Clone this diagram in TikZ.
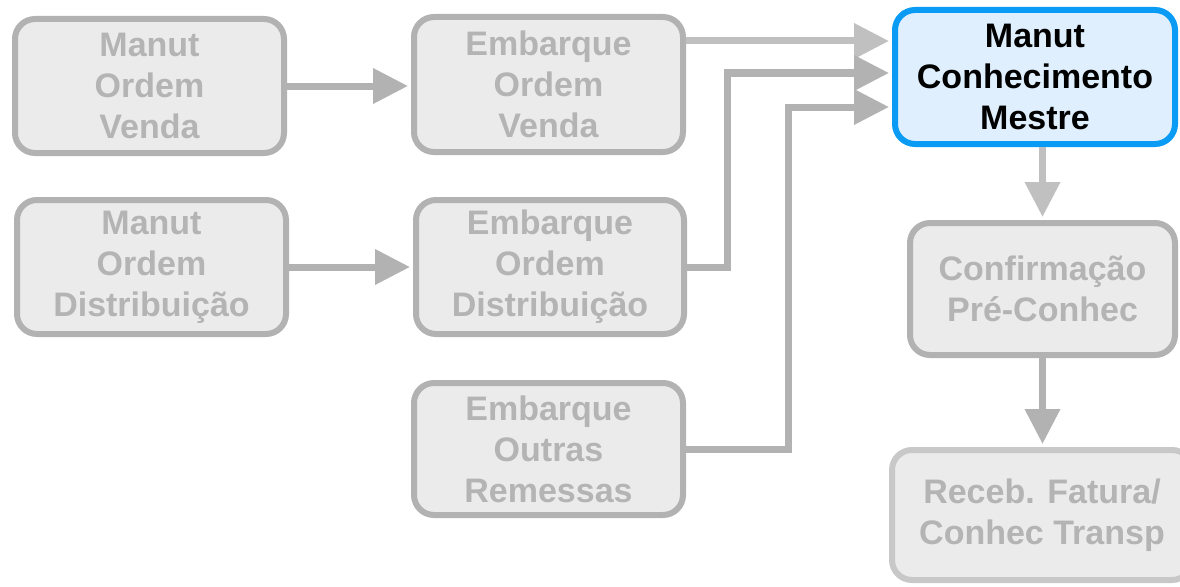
\documentclass[tikz,border=0pt]{standalone}
\usepackage{fontspec}
\setmainfont{Liberation Sans}
\usetikzlibrary{arrows.meta}
\definecolor{boxline}{HTML}{B2B2B2}
\definecolor{boxfill}{HTML}{EBEBEB}
\definecolor{boxtext}{HTML}{B4B4B4}
\definecolor{lightline}{HTML}{C0C0C0}
\definecolor{paleline}{HTML}{C8C8C8}
\definecolor{blueline}{HTML}{0A9BF5}
\definecolor{bluefill}{HTML}{DFEFFD}
\tikzset{
  proc/.style={draw=boxline, fill=boxfill, line width=6pt, rounded corners=20pt,
    text=boxtext, align=center, inner sep=0pt,
    font=\fontsize{34}{41}\selectfont\bfseries},
  current/.style={proc, draw=blueline, fill=bluefill, text=black},
  flow/.style={draw=boxline, line width=7pt,
    -{Triangle[length=35pt,width=34pt]}, shorten >=3pt},
  lightflow/.style={flow, draw=lightline},
}
\begin{document}
\begin{tikzpicture}[x=1pt,y=-1pt]
\useasboundingbox (0,0) rectangle (1180,586);
\clip (0,0) rectangle (1180,586);
\node[proc, minimum width=269pt, minimum height=134pt] (A) at (149.5,86) {Manut\\Ordem\\Venda};
\node[proc, minimum width=269pt, minimum height=134pt] (B) at (151.5,267) {Manut\\Ordem\\Distribuição};
\node[proc, minimum width=269pt, minimum height=135pt] (C) at (548.5,84.5) {Embarque\\Ordem\\Venda};
\node[proc, minimum width=268pt, minimum height=134pt] (D) at (550,267) {Embarque\\Ordem\\Distribuição};
\node[proc, minimum width=269pt, minimum height=132pt] (E) at (548.5,449) {Embarque\\Outras\\Remessas};
\node[current, minimum width=280pt, minimum height=134pt] (F) at (1035,77) {Manut\\Conhecimento\\Mestre};
\node[proc, minimum width=265pt, minimum height=132pt] (G) at (1042.5,289) {Confirmação\\Pré-Conhec};
\node[proc, draw=paleline, minimum width=300pt, minimum height=130pt] (H) at (1042,515) {Receb. Fatura/\\Conhec Transp};
\coordinate (k0) at (0,41);
\coordinate (k1) at (727,73);
\coordinate (k2) at (788,107);
\draw[flow] (A.east) -- (A.east -| C.west);
\draw[flow] (B.east) -- (D.west);
\draw[lightflow] (C.east |- k0) -- (F.west |- k0);
\draw[flow] (D.east) -| (k1) -- (F.west |- k1);
\draw[flow] (E.east) -| (k2) -- (F.west |- k2);
\draw[lightflow] (F.south -| G.north) -- (G.north);
\draw[flow] (G.south) -- (G.south |- H.north);
\end{tikzpicture}
\end{document}
